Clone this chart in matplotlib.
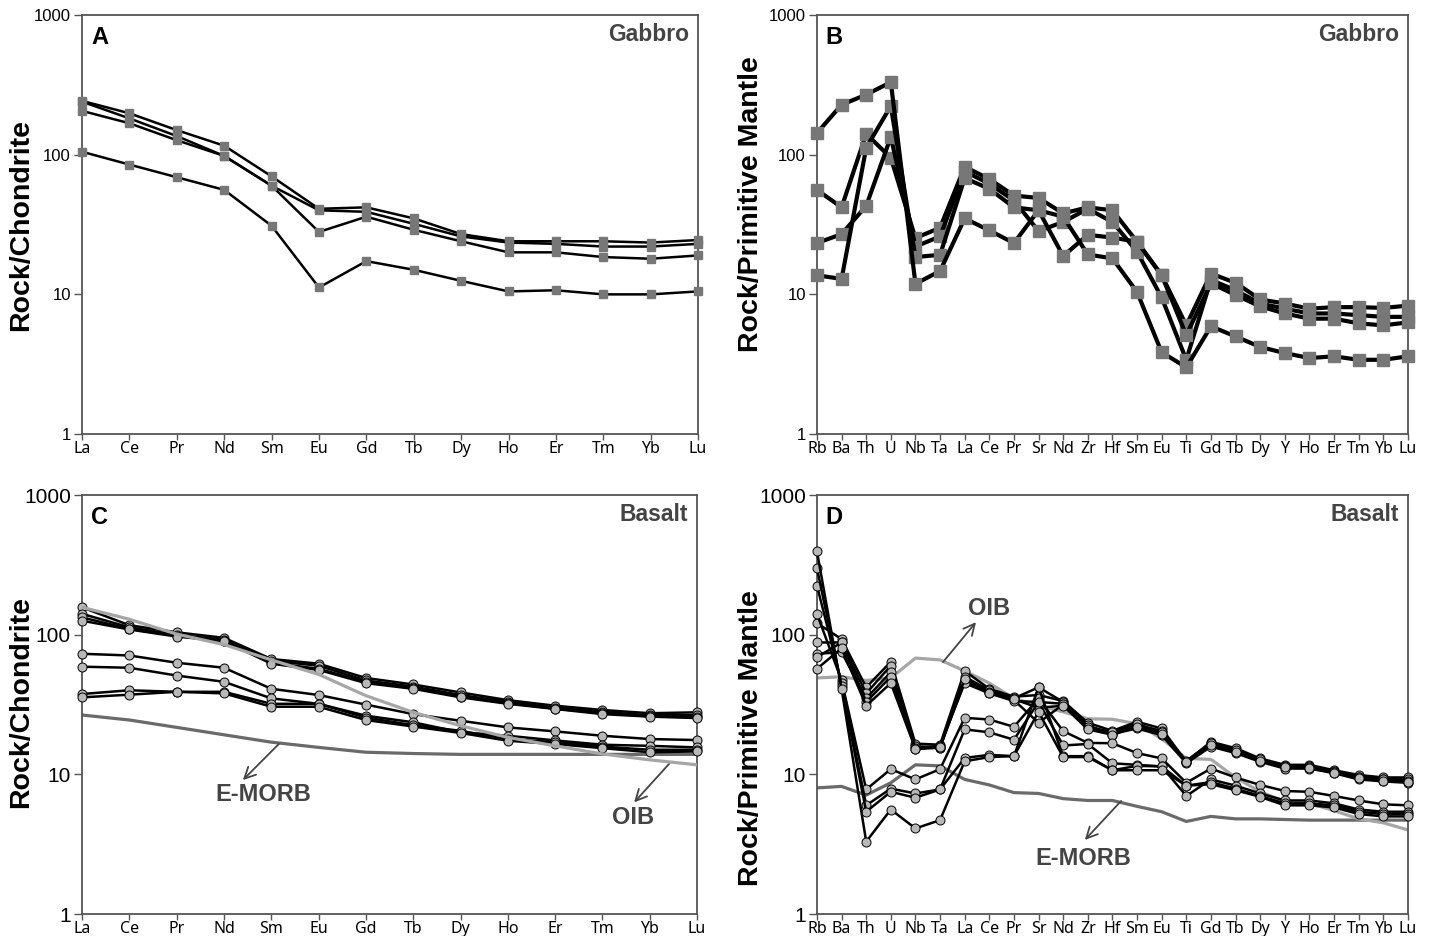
import matplotlib
matplotlib.use("Agg")
import matplotlib.pyplot as plt
from matplotlib.ticker import FixedLocator, NullLocator

# ---- element lists ----
ree = ["La", "Ce", "Pr", "Nd", "Sm", "Eu", "Gd", "Tb", "Dy", "Ho", "Er", "Tm", "Yb", "Lu"]
spider = ["Rb", "Ba", "Th", "U", "Nb", "Ta", "La", "Ce", "Pr", "Sr", "Nd", "Zr", "Hf",
          "Sm", "Eu", "Ti", "Gd", "Tb", "Dy", "Y", "Ho", "Er", "Tm", "Yb", "Lu"]

# ---- A: gabbro, chondrite normalised REE ----
gab_ree_1 = [243, 198, 150, 116, 70, 41, 42, 35, 27, 24, 24, 24, 23.5, 24.5]
gab_ree_2 = [240, 182, 136, 98, 60, 40, 39, 32, 26, 23.5, 23, 22, 22, 23]
gab_ree_3 = [206, 168, 127, 98, 60, 28, 36, 29, 24, 20, 20, 18.5, 18, 19]
gab_ree_4 = [105, 85, 69, 56, 31, 11.2, 17.3, 15, 12.5, 10.5, 10.7, 10, 10, 10.5]

# ---- B: gabbro, primitive mantle normalised ----
gab_pm_1 = [56, 42, 141, 95, 25.3, 30, 82, 67, 51, 49, 38, 42, 40,
            23.8, 13.7, 6.0, 14.1, 12.1, 9.2, 8.6, 7.9, 8.1, 8.1, 8.0, 8.3]
gab_pm_2 = [23.3, 27, 43, 134, 22, 26, 76, 62, 47, 28.4, 33, 41, 33,
            20.2, 9.5, 3.4, 12.7, 10.7, 8.6, 7.9, 7.3, 7.3, 7.1, 6.9, 6.9]
gab_pm_3 = [13.7, 12.9, 112, 223, 18.5, 19.2, 68, 57, 42, 40, 18.8, 26.7, 25.5,
            23.8, 13.7, 5.1, 12.0, 9.9, 8.2, 7.3, 6.7, 6.7, 6.2, 6.0, 6.3]
gab_pm_4 = [143, 228, 269, 331, 11.9, 14.7, 35, 28.7, 23.3, 40, 36, 19.3, 18.1,
            10.4, 3.85, 3.0, 5.9, 5.0, 4.2, 3.8, 3.5, 3.6, 3.4, 3.4, 3.6]

# ---- C: basalt, chondrite normalised REE ----
bas_ree_1 = [157, 117, 104, 95, 67, 62, 49, 44, 38.6, 34, 31, 28.9, 27.4, 27.8]
bas_ree_2 = [141, 113, 100, 92, 65, 60, 47, 42.5, 37, 33, 30, 28, 26.5, 26.5]
bas_ree_3 = [133, 110, 98, 90, 63, 57, 46, 41.5, 36, 32.5, 29.5, 27.5, 26, 25.8]
bas_ree_4 = [126, 109, 97, 90, 62, 56, 45, 41, 35.6, 32, 29.4, 27, 25.9, 25.3]
bas_ree_5 = [73, 71, 63, 58, 41, 37, 31.6, 27, 24.2, 21.7, 20.3, 18.9, 17.9, 17.6]
bas_ree_6 = [59, 58, 51, 46, 35, 32, 26.3, 23.6, 20, 18.9, 17.5, 16.3, 16, 15.6]
bas_ree_7 = [37.6, 40, 39, 39, 32, 32, 25.5, 22.5, 20.5, 17.8, 17, 15.8, 15, 15]
bas_ree_8 = [35.6, 37.2, 39, 38, 30.5, 30.5, 24.5, 22, 19.8, 17.4, 16.5, 15.4, 14.4, 14.6]
oib_ree = [157, 129, 101, 85, 66, 52, 36.6, 27.8, 22.3, 18.4, 16, 14, 12.7, 11.7]
emorb_ree = [26.6, 24.5, 21.7, 19.2, 17, 15.6, 14.4, 14.1, 13.9, 13.9, 13.9, 13.9, 13.9, 13.9]

# ---- D: basalt, primitive mantle normalised ----
bas_pm_1 = [121, 93, 42, 64, 16.6, 16.3, 55, 41, 36, 37, 33.5, 23.4, 20.5,
            23.8, 21.3, 12.3, 17.1, 15.4, 13, 11.7, 11.7, 10.7, 9.9, 9.5, 9.5]
bas_pm_2 = [88, 88, 38, 60, 15.9, 15.5, 50, 40, 35, 42, 33, 22.5, 19.1,
            22.5, 20.5, 12.3, 16.5, 14.8, 12.7, 11.4, 11.4, 10.5, 9.6, 9.2, 9.2]
bas_pm_3 = [73, 75, 35, 54, 15.2, 15.5, 47, 39, 34, 23.4, 31.7, 21.5, 19.5,
            21.3, 19.1, 12.0, 15.8, 14.2, 12.3, 11, 11, 10.2, 9.2, 8.9, 8.7]
bas_pm_4 = [69, 88, 33, 50, 15.5, 16, 45, 38, 33.5, 33, 32, 22, 20,
            23, 20, 12.5, 16.8, 15, 12.8, 11.5, 11.2, 10.4, 9.5, 9.3, 9.0]
bas_pm_5 = [57, 80, 31, 45, 15.2, 15.8, 48, 38.5, 34.5, 30, 31, 21, 19.2,
            22, 19.5, 12.2, 16.2, 14.5, 12.5, 11.2, 11.1, 10.3, 9.4, 9.0, 8.8]
bas_pm_6 = [141, 47, 7.8, 10.9, 9.2, 10.9, 25.4, 24.7, 21.9, 35, 20.4, 16.8, 16.7,
            14.2, 13, 8.7, 11, 9.5, 8.4, 7.6, 7.5, 7.0, 6.5, 6.1, 6.0]
bas_pm_7 = [225, 45, 6.0, 7.9, 7.3, 7.8, 21, 20, 17.7, 33, 16.1, 16.5, 12,
            11.7, 11.4, 7.0, 9.2, 8.3, 7.3, 6.5, 6.5, 6.2, 5.6, 5.4, 5.4]
bas_pm_8 = [300, 43, 5.4, 7.5, 6.8, 7.8, 13.1, 13.8, 13.5, 42, 13.5, 13.5, 10.7,
            11.5, 11.4, 8.3, 8.8, 7.9, 7.0, 6.2, 6.2, 6.0, 5.4, 5.2, 5.2]
bas_pm_9 = [395, 41, 3.3, 5.6, 4.1, 4.7, 12.4, 13.3, 13.5, 28, 13.3, 13.3, 10.7,
            10.7, 10.7, 8.3, 8.5, 7.7, 6.9, 6.0, 6.0, 5.8, 5.2, 5.0, 5.0]
oib_pm = [49, 50, 47, 49, 68, 66, 55, 45, 35, 31, 28, 25, 24.8,
          23, 18, 13, 12.8, 9.5, 7.5, 6.4, 6.2, 5.5, 4.8, 4.5, 4.0]
emorb_pm = [8.0, 8.2, 7.1, 8.7, 11.7, 11.5, 9.2, 8.4, 7.4, 7.3, 6.7, 6.5, 6.5,
            5.9, 5.4, 4.6, 5.0, 4.8, 4.8, 4.75, 4.7, 4.7, 4.7, 4.7, 4.7]

SQ_GREY = "#777777"
OIB_GREY = "#a6a6a6"
EMORB_GREY = "#6a6a6a"
TXT_GREY = "#444444"
SPINE = "#555555"


def style_axis(ax, labels, ylabel, letter, rock, ytick_size, ylab_x, ylab_y):
    ax.set_yscale("log")
    ax.set_ylim(1, 1000)
    ax.set_xlim(0, len(labels) - 1)
    ax.yaxis.set_major_locator(FixedLocator([1, 10, 100, 1000]))
    ax.yaxis.set_minor_locator(NullLocator())
    ax.set_yticklabels(["1", "10", "100", "1000"], fontsize=ytick_size,
                       family="Liberation Sans")
    ax.set_xticks(range(len(labels)))
    ax.set_xticklabels(labels, fontsize=11.5, family="Noto Sans")
    ax.tick_params(axis="x", direction="out", length=4, width=1, color=SPINE, pad=1)
    ax.tick_params(axis="y", direction="out", length=6, width=1, color=SPINE, pad=2)
    for s in ax.spines.values():
        s.set_color(SPINE)
        s.set_linewidth(1.3)
    ax.set_ylabel(ylabel, fontsize=20.5, fontweight="bold", family="Liberation Sans")
    ax.yaxis.set_label_coords(ylab_x, ylab_y)
    ax.text(0.015, 0.975, letter, transform=ax.transAxes, ha="left", va="top",
            fontsize=17, fontweight="bold", family="Liberation Sans", color="black")
    ax.text(0.985, 0.98, rock, transform=ax.transAxes, ha="right", va="top",
            fontsize=16.5, fontweight="bold", family="Liberation Sans", color=TXT_GREY)


def arrow(ax, head, tail):
    ax.annotate("", xy=head, xytext=tail,
                arrowprops=dict(arrowstyle="->", color=TXT_GREY, lw=1.3,
                                mutation_scale=20, shrinkA=0, shrinkB=0))


fig = plt.figure(figsize=(14.34, 9.36), dpi=100)
axA = fig.add_axes([0.0572, 0.5363, 0.4296, 0.4476])
axB = fig.add_axes([0.5697, 0.5363, 0.4121, 0.4476])
axC = fig.add_axes([0.0572, 0.0235, 0.4289, 0.4476])
axD = fig.add_axes([0.5697, 0.0235, 0.4121, 0.4476])

xr = range(len(ree))
xs = range(len(spider))

# A
for vals in [gab_ree_1, gab_ree_2, gab_ree_3, gab_ree_4]:
    axA.plot(xr, vals, color="black", lw=1.8, marker="s", ms=6,
             mfc=SQ_GREY, mec=SQ_GREY, clip_on=False, zorder=3)
style_axis(axA, ree, "Rock/Chondrite", "A", "Gabbro", 12, -0.078, 0.50)

# B
for vals in [gab_pm_1, gab_pm_2, gab_pm_3, gab_pm_4]:
    axB.plot(xs, vals, color="black", lw=3, marker="s", ms=9,
             mfc=SQ_GREY, mec=SQ_GREY, clip_on=False, zorder=3)
style_axis(axB, spider, "Rock/Primitive Mantle", "B", "Gabbro", 12, -0.09, 0.55)

# C
axC.plot(xr, emorb_ree, color=EMORB_GREY, lw=2.3, zorder=2)
for vals in [bas_ree_1, bas_ree_2, bas_ree_3, bas_ree_4,
             bas_ree_5, bas_ree_6, bas_ree_7, bas_ree_8]:
    axC.plot(xr, vals, color="black", lw=1.8, marker="o", ms=6.5,
             mfc="#b8b8b8", mec="black", mew=0.7, clip_on=False, zorder=3)
axC.plot(xr, oib_ree, color=OIB_GREY, lw=2.3, zorder=4)
style_axis(axC, ree, "Rock/Chondrite", "C", "Basalt", 15, -0.078, 0.506)
axC.text(3.83, 7.2, "E-MORB", fontsize=17, fontweight="bold", family="Liberation Sans",
         color=TXT_GREY, ha="center", va="center")
arrow(axC, (3.40, 9.1), (4.16, 16.5))
axC.text(11.65, 4.87, "OIB", fontsize=17, fontweight="bold", family="Liberation Sans",
         color=TXT_GREY, ha="center", va="center")
arrow(axC, (11.67, 6.3), (12.41, 11.9))

# D
axD.plot(xs, emorb_pm, color=EMORB_GREY, lw=2.3, zorder=2)
axD.plot(xs, oib_pm, color=OIB_GREY, lw=2.3, zorder=2)
for vals in [bas_pm_1, bas_pm_2, bas_pm_3, bas_pm_4, bas_pm_5,
             bas_pm_6, bas_pm_7, bas_pm_8, bas_pm_9]:
    axD.plot(xs, vals, color="black", lw=1.8, marker="o", ms=6.5,
             mfc="#b8b8b8", mec="black", mew=0.7, clip_on=False, zorder=3)
style_axis(axD, spider, "Rock/Primitive Mantle", "D", "Basalt", 15, -0.09, 0.42)
axD.text(6.98, 155, "OIB", fontsize=17, fontweight="bold", family="Liberation Sans",
         color=TXT_GREY, ha="center", va="center")
arrow(axD, (6.46, 123), (5.12, 63.7))
axD.text(10.8, 2.48, "E-MORB", fontsize=17, fontweight="bold", family="Liberation Sans",
         color=TXT_GREY, ha="center", va="center")
arrow(axD, (10.88, 3.39), (12.35, 6.44))

fig.savefig("out.png", dpi=100)
